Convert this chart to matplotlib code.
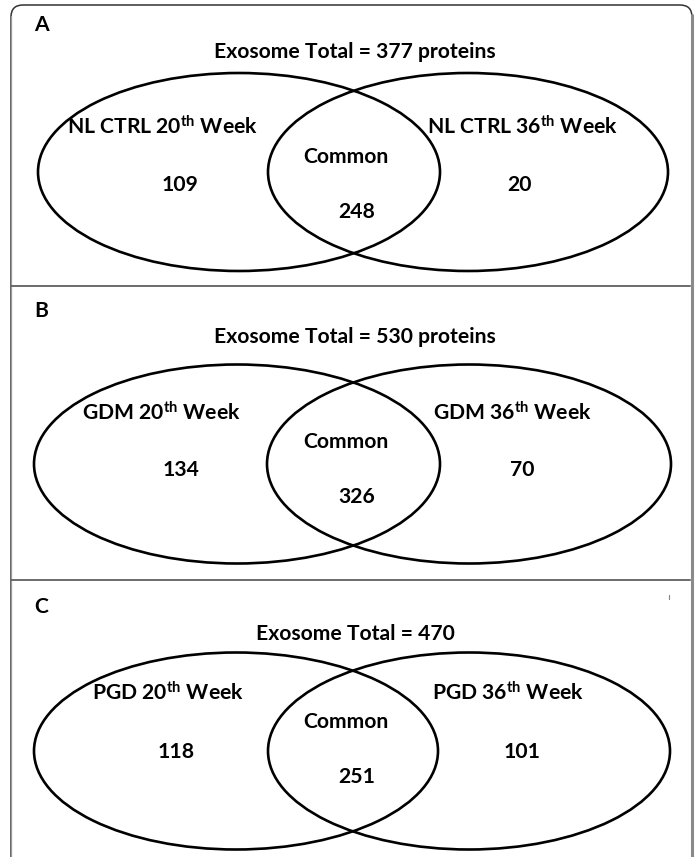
import matplotlib
matplotlib.use("Agg")
import matplotlib.pyplot as plt
from matplotlib.patches import Ellipse, FancyBboxPatch

plt.rcParams['font.family'] = ['Lato', 'DejaVu Sans']
plt.rcParams['mathtext.fontset'] = 'custom'
plt.rcParams['mathtext.rm'] = 'Lato:bold'
plt.rcParams['mathtext.bf'] = 'Lato:bold'
plt.rcParams['mathtext.it'] = 'Lato:bold:italic'

# ---- data ----
panel_letters = ["A", "B", "C"]
panel_titles = ["Exosome Total = 377 proteins",
                "Exosome Total = 530 proteins",
                "Exosome Total = 470"]
left_groups = ["NL CTRL", "GDM", "PGD"]
right_groups = ["NL CTRL", "GDM", "PGD"]
left_week = "20"
right_week = "36"
left_only = [109, 134, 118]
common = [248, 326, 251]
right_only = [20, 70, 101]

# ---- layout (pixel coordinates) ----
W, H = 696, 857
fig = plt.figure(figsize=(W / 100, H / 100), dpi=100)
ax = fig.add_axes([0, 0, 1, 1])
ax.set_xlim(0, W)
ax.set_ylim(H, 0)
ax.axis('off')

# outer rounded frame
frame = FancyBboxPatch((11, 5), 681, 880, boxstyle="round,pad=0,rounding_size=12",
                       fc='none', ec='#333333', lw=1.1, clip_on=True)
ax.add_patch(frame)
ax.plot([692, 692], [14, H], color='#8a8a8a', lw=2.2, solid_capstyle='butt')
ax.plot([11, 11], [16, H], color='#9a9a9a', lw=0.9)

# separators
for ys in (286, 580):
    ax.plot([12, 690], [ys, ys], color='#444444', lw=1.1)
# tiny mark
ax.plot([669, 669], [595, 599], color='#888888', lw=0.8)

letter_y = [25, 311, 607]
title_y = [52, 337, 634]
ell_cy = [172, 464, 751]
ell_h = [198, 199, 197]
left_cx = [239, 237, 236]
right_cx = [468, 469, 469]
left_w = [402, 406, 404]
right_w = [400, 404, 402]
group_y = [127, 413, 693]
count_y = [185, 470, 752]
common_y = [157, 442, 722]
common_n_y = [212, 497, 777]
left_lbl_x = [163, 161, 168]
right_lbl_x = [523, 512, 508]
left_n_x = [180, 181, 176]
right_n_x = [520, 522, 522]

fs = 15.2
for i in range(3):
    ax.text(34, letter_y[i], panel_letters[i], fontsize=fs, fontweight='bold',
            ha='left', va='center')
    ax.text(355, title_y[i], panel_titles[i], fontsize=fs, fontweight='bold',
            ha='center', va='center')
    ax.add_patch(Ellipse((left_cx[i], ell_cy[i]), left_w[i], ell_h[i],
                         fc='none', ec='black', lw=1.9))
    ax.add_patch(Ellipse((right_cx[i], ell_cy[i]), right_w[i], ell_h[i],
                         fc='none', ec='black', lw=1.9))
    ax.text(left_lbl_x[i], group_y[i],
            left_groups[i] + " " + left_week + r"$^{\mathrm{th}}$" + " Week",
            fontsize=fs, fontweight='bold', ha='center', va='center')
    ax.text(right_lbl_x[i], group_y[i],
            right_groups[i] + " " + right_week + r"$^{\mathrm{th}}$" + " Week",
            fontsize=fs, fontweight='bold', ha='center', va='center')
    ax.text(left_n_x[i], count_y[i], str(left_only[i]), fontsize=fs,
            fontweight='bold', ha='center', va='center')
    ax.text(right_n_x[i], count_y[i], str(right_only[i]), fontsize=fs,
            fontweight='bold', ha='center', va='center')
    ax.text(346, common_y[i], "Common", fontsize=fs, fontweight='bold',
            ha='center', va='center')
    ax.text(357, common_n_y[i], str(common[i]), fontsize=fs,
            fontweight='bold', ha='center', va='center')

fig.savefig("out.png", dpi=100)
